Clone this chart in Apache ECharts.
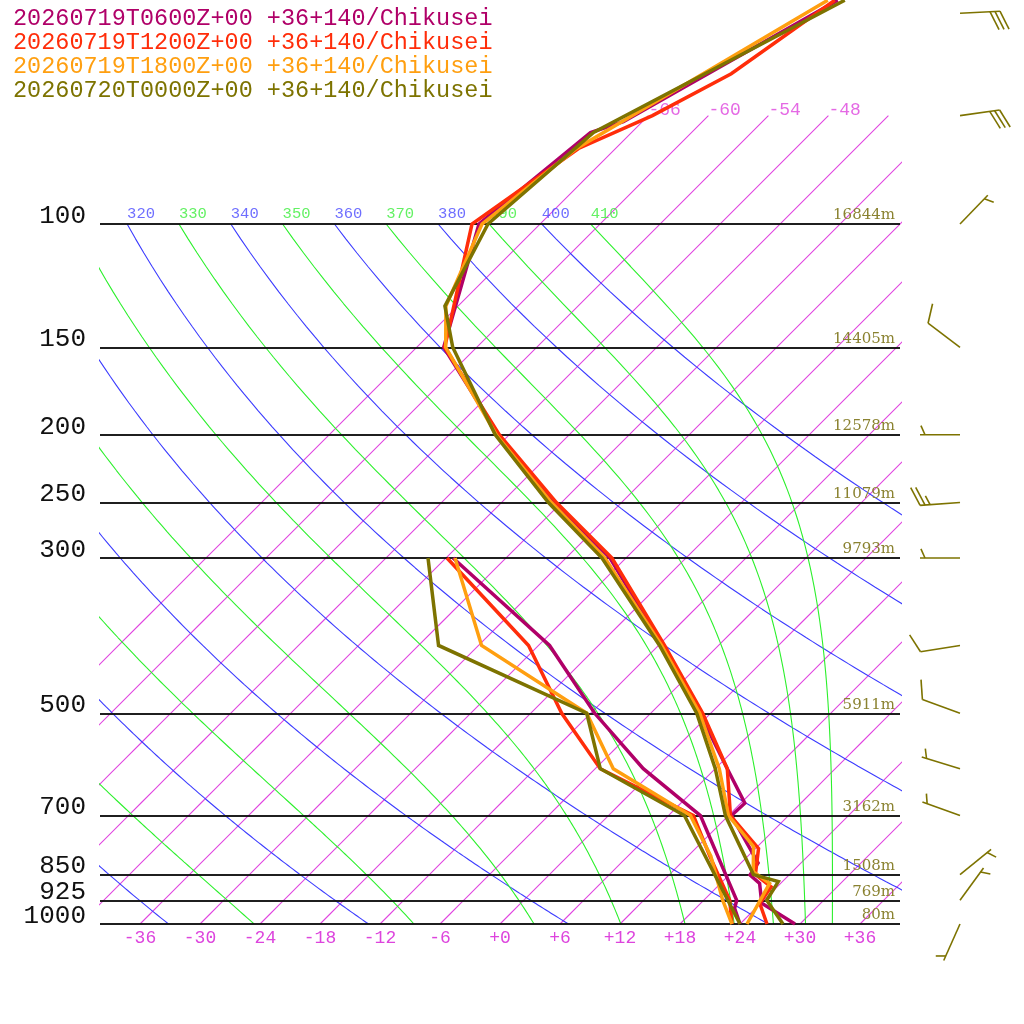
<!DOCTYPE html>
<html>
<head>
<meta charset="utf-8">
<script src="https://cdn.jsdelivr.net/npm/echarts@6/dist/echarts.min.js"></script>
<style>
  html, body { margin: 0; padding: 0; background: #fff; }
  #main { width: 1024px; height: 1024px; }
</style>
</head>
<body>
<div id="main"></div>
<script>
// runs (legend order)
const runNames = [
  '20260719T0600Z+00 +36+140/Chikusei',
  '20260719T1200Z+00 +36+140/Chikusei',
  '20260719T1800Z+00 +36+140/Chikusei',
  '20260720T0000Z+00 +36+140/Chikusei'
];
const runColors = ['#b00068', '#ff2d0a', '#ff9f10', '#7d7300'];

// temperature (hPa / degC)
const t06P = [1000, 934, 875, 851, 818, 700, 672, 600, 500, 400, 300, 250, 200, 150, 100, 74, 71.4, 47.9];
const t06T = [29.5, 24.1, 21.9, 20.1, 19.7, 12.3, 12.4, 7.2, -1.1, -11.6, -25.6, -36.7, -49.1, -63.3, -72.1, -70.1, -67.9, -58.6];
const t12P = [1000, 934, 885, 850, 780, 700, 600, 500, 400, 300, 250, 200, 150, 100, 78, 70, 61, 47.9];
const t12T = [26.7, 23.9, 23.4, 20.6, 18.3, 12.2, 7.2, -0.8, -11.4, -25.4, -36.5, -49.0, -63.2, -72.8, -69.7, -65.6, -61.9, -58.9];
const t18P = [1000, 875, 842, 775, 700, 600, 500, 400, 300, 250, 200, 150, 131, 100, 78, 47.9];
const t18T = [24.7, 22.9, 20.1, 17.6, 12.0, 6.4, -1.1, -11.7, -26.1, -37.0, -49.3, -63.1, -67.2, -71.8, -69.9, -59.6];
const t00P = [1000, 925, 870, 850, 700, 600, 500, 400, 300, 250, 200, 150, 131, 100, 74, 47.9];
const t00T = [28.3, 24.3, 23.6, 20.4, 11.7, 6.0, -1.4, -11.9, -26.4, -37.3, -49.4, -62.4, -67.3, -71.2, -69.8, -57.9];

// dew point
const d06P = [1000, 950, 925, 700, 600, 500, 400, 300];
const d06T = [24.0, 21.9, 21.3, 9.2, -1.2, -11.6, -22.9, -41.3];
const d12P = [1000, 925, 800, 700, 600, 500, 400, 300];
const d12T = [23.2, 20.6, 14.2, 8.5, -5.5, -14.9, -25.0, -41.9];
const d18P = [1000, 925, 800, 700, 600, 500, 400, 300];
const d18T = [23.2, 19.9, 14.3, 8.2, -4.2, -12.4, -29.7, -41.1];
const d00P = [1000, 700, 600, 500, 400, 300];
const d00T = [24.0, 7.6, -5.5, -12.4, -34.0, -43.8];

// winds (last run): pressure, direction (deg), speed (kt)
const windP = [1000, 925, 850, 700, 600, 500, 400, 300, 250, 200, 150, 100, 70, 50];
const windDir = [204, 36, 51, 290, 287, 290, 261, 270, 266, 270, 307, 44, 82, 87];
const windSpd = [5, 5, 5, 5, 5, 10, 10, 5, 25, 5, 10, 5, 30, 30];

// isobars and heights
const isobarP = [1000, 925, 850, 700, 500, 300, 250, 200, 150, 100];
const heightLabels = ['80m', '769m', '1508m', '3162m', '5911m', '9793m', '11079m', '12578m', '14405m', '16844m'];

// diagram grid
const xTicks = [-36, -30, -24, -18, -12, -6, 0, 6, 12, 18, 24, 30, 36];
const isotherms = [-66, -60, -54, -48, -42, -36, -30, -24, -18, -12, -6, 0, 6, 12, 18, 24, 30, 36];
const isothermLabels = [-66, -60, -54, -48];
const dryThetas = [200, 220, 240, 260, 280, 300, 320, 340, 360, 380, 400];
const moistThetas = [210, 230, 250, 270, 290, 310, 330, 350, 370, 390, 410];

const SKEW = 30.4;                       // degC per ln(p) unit (45 degrees)
const P_TOP = 1000 * Math.exp(-924 / 304);
const BARB_X = 46;

const skewX = (t, p) => t + SKEW * Math.log(1000 / p);

function satThetaE(tk, p) {
  const tc = tk - 273.15;
  const es = 6.112 * Math.exp(17.67 * tc / (tc + 243.5));
  if (es > 0.5 * p) return 1e9;
  const r = 622 * es / (p - es);
  return tk * Math.pow(1000 / p, 0.2854 * (1 - 0.00028 * r)) *
    Math.exp((3.376 / tk - 0.00254) * r * (1 + 0.00081 * r));
}
function moistT(the, p) {
  let lo = 120, hi = 340;
  for (let i = 0; i < 50; i++) {
    const mid = (lo + hi) / 2;
    if (satThetaE(mid, p) < the) lo = mid; else hi = mid;
  }
  return (lo + hi) / 2 - 273.15;
}

const levels = [];
for (let p = 1000; p >= 100; p -= 5) levels.push(p);

function bgLine(data, color) {
  return {
    type: 'line', data, symbol: 'none', silent: true, z: 1, color,
    itemStyle: { color },
    lineStyle: { color, width: 1.1, opacity: 1 }
  };
}

const series = [];

isotherms.forEach(t => {
  const pts = [];
  for (let p = 1000; p >= 70; p -= 30) pts.push([skewX(t, p), p]);
  pts.push([skewX(t, 70), 70]);
  series.push(bgLine(pts, '#e046e0'));
});
dryThetas.forEach(th => {
  series.push(bgLine(levels.map(p => [skewX(th * Math.pow(p / 1000, 0.2854) - 273.15, p), p]), '#3c3cff'));
});
moistThetas.forEach(th => {
  series.push(bgLine(levels.map(p => [skewX(moistT(th, p), p), p]), '#2cf02c'));
});

// theta labels along 100 hPa
const thetaLabelData = [];
dryThetas.concat(moistThetas).sort((a, b) => a - b).forEach(th => {
  const dry = dryThetas.includes(th);
  const x = skewX(dry ? th * Math.pow(0.1, 0.2854) - 273.15 : moistT(th, 100), 100);
  if (x >= -40) {
    thetaLabelData.push({ value: [x, 100], label: { formatter: String(th), color: dry ? '#4a4aff' : '#3cee3c' } });
  }
});
series.push({
  type: 'scatter', symbolSize: 0, silent: true, z: 3, data: thetaLabelData,
  label: { show: true, position: [0, -18], fontFamily: 'Liberation Mono', fontSize: 15.5 }
});
series.push({
  type: 'scatter', symbolSize: 0, silent: true, z: 3,
  data: isothermLabels.map(t => ({ value: [skewX(t, 70), 70], label: { formatter: String(t) } })),
  label: { show: true, position: [0, -14], fontFamily: 'Liberation Mono', fontSize: 18, color: '#dd44dd' }
});

// isobars with pressure and height labels
series.push({
  type: 'line', data: [], silent: true, z: 4,
  markLine: {
    silent: true, symbol: ['none', 'none'], animation: false,
    lineStyle: { color: '#111', width: 1.5, type: 'solid' },
    label: {
      position: 'start', distance: 14, fontFamily: 'Liberation Mono', fontSize: 26,
      color: '#111', offset: [0, -8], formatter: p => String(p.value)
    },
    data: isobarP.map(p => ({ yAxis: p }))
  }
});
series.push({
  type: 'line', data: [], silent: true, z: 4,
  markLine: {
    silent: true, symbol: ['none', 'none'], animation: false,
    lineStyle: { color: '#111', width: 1.5, type: 'solid' },
    label: {
      position: 'insideEndTop', distance: 5, fontFamily: 'DejaVu Serif', fontSize: 15,
      color: '#8a8230', offset: [0, 4]
    },
    data: isobarP.map((p, i) => ({ yAxis: p, label: { formatter: heightLabels[i] } }))
  }
});

// soundings
const tempSets = [[t06P, t06T], [t12P, t12T], [t18P, t18T], [t00P, t00T]];
const dewSets = [[d06P, d06T], [d12P, d12T], [d18P, d18T], [d00P, d00T]];
runNames.forEach((name, i) => {
  [tempSets[i], dewSets[i]].forEach(([ps, ts]) => {
    series.push({
      name, type: 'line', symbol: 'none', z: 10 + i, silent: true, color: runColors[i],
      data: ps.map((p, k) => [skewX(ts[k], p), p]),
      lineStyle: { color: runColors[i], width: 3.5, join: 'miter' },
      itemStyle: { color: runColors[i] }
    });
  });
});

// wind barbs
series.push({
  type: 'custom', clip: false, silent: true, z: 20,
  data: windP.map((p, i) => [p, windDir[i], windSpd[i]]),
  renderItem(params, api) {
    const p = api.value(0), dir = api.value(1) * Math.PI / 180, spd = api.value(2);
    const base = api.coord([BARB_X, p]);
    const ux = Math.sin(dir), uy = -Math.cos(dir);
    const tip = [base[0] + ux * 40, base[1] + uy * 40];
    const a = 66 * Math.PI / 180;
    const bx = ux * Math.cos(a) - uy * Math.sin(a);
    const by = ux * Math.sin(a) + uy * Math.cos(a);
    const style = { stroke: '#7d7300', lineWidth: 1.6 };
    const kids = [{ type: 'line', shape: { x1: base[0], y1: base[1], x2: tip[0], y2: tip[1] }, style }];
    const full = Math.floor(spd / 10);
    const half = spd % 10 >= 5;
    let pos = 0;
    for (let k = 0; k < full; k++) {
      const s = [tip[0] - ux * pos, tip[1] - uy * pos];
      kids.push({ type: 'line', shape: { x1: s[0], y1: s[1], x2: s[0] + bx * 20, y2: s[1] + by * 20 }, style });
      pos += 5;
    }
    if (half) {
      if (full === 0) pos = 5;
      const s = [tip[0] - ux * pos, tip[1] - uy * pos];
      kids.push({ type: 'line', shape: { x1: s[0], y1: s[1], x2: s[0] + bx * 10, y2: s[1] + by * 10 }, style });
    }
    return { type: 'group', children: kids };
  }
});

const chart = echarts.init(document.getElementById('main'));
chart.setOption({
  animation: false,
  backgroundColor: '#fff',
  grid: { left: 100, right: 124, top: 0, bottom: 100 },
  legend: {
    orient: 'vertical', left: 3, top: 2, itemGap: 0, itemWidth: 0, itemHeight: 0,
    selectedMode: false,
    textStyle: { fontFamily: 'Liberation Mono', fontSize: 23.5, padding: 0 },
    data: runNames.map((n, i) => ({ name: n, icon: 'rect', textStyle: { color: runColors[i] } }))
  },
  xAxis: {
    type: 'value', min: -40, max: 40,
    axisLine: { show: false }, axisTick: { show: false }, splitLine: { show: false },
    axisLabel: {
      customValues: xTicks, margin: 5, color: '#dd44dd',
      fontFamily: 'Liberation Mono', fontSize: 18,
      formatter: v => (v >= 0 ? '+' + v : String(v))
    }
  },
  yAxis: {
    type: 'log', inverse: true, min: P_TOP, max: 1000,
    axisLine: { show: false }, axisTick: { show: false },
    axisLabel: { show: false }, splitLine: { show: false }
  },
  series
});
</script>
</body>
</html>
